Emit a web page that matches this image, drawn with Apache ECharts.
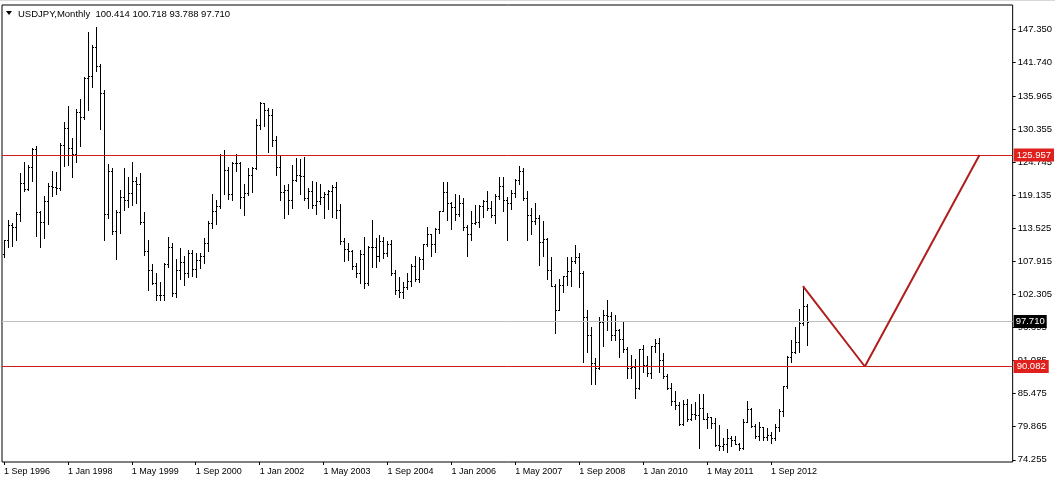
<!DOCTYPE html>
<html>
<head>
<meta charset="utf-8">
<script src="https://cdn.jsdelivr.net/npm/echarts@6/dist/echarts.min.js"></script>
<style>
html,body{margin:0;padding:0;background:#fff;}
#chart{width:1055px;height:479px;}
</style>
</head>
<body>
<div id="chart"></div>
<script>
// Monthly USDJPY bars, Sep 1996 .. Jun 2013 (index 0 = Sep 1996)
const opens = [
109.1,111.5,114.0,113.8,
115.9,121.2,120.2,123.9,126.9,116.3,114.6,118.1,120.7,120.6,120.4,127.7,
130.5,127.1,126.2,133.3,132.4,139.1,139.4,144.3,141.1,136.5,116.0,123.2,
113.0,116.3,118.8,118.4,119.5,121.5,121.0,114.6,109.7,106.4,104.2,102.2,
102.2,107.4,110.3,102.6,106.4,107.8,105.9,109.4,106.7,108.1,108.8,111.1,
114.4,116.4,117.3,126.0,123.4,119.4,124.6,124.6,118.8,119.5,122.5,123.7,
131.0,134.7,133.6,132.7,128.5,124.0,119.6,120.0,118.4,121.8,122.5,122.4,
118.7,119.9,117.5,118.1,118.8,119.4,119.8,120.5,116.7,111.4,110.0,109.6,
107.2,105.9,109.1,104.2,110.4,110.4,108.8,111.3,109.3,110.9,105.9,103.0,
102.7,103.6,104.6,107.2,105.0,108.4,110.8,112.5,110.8,113.4,116.4,119.7,
117.9,117.1,115.9,117.8,113.7,112.5,114.5,114.6,117.3,118.1,116.9,115.8,
119.0,120.7,118.4,117.8,119.5,121.7,123.2,118.6,115.8,114.8,115.3,111.2,
111.7,106.4,103.8,99.7,103.9,105.5,106.2,108.0,108.7,106.0,98.5,95.4,
90.7,89.9,97.7,98.9,98.6,95.4,96.3,94.7,93.0,89.8,90.0,86.4,
93.0,90.3,88.9,93.5,94.0,91.2,88.4,86.5,84.2,83.5,80.4,83.7,
81.1,82.0,81.8,83.1,81.2,81.5,80.5,76.7,76.6,77.0,78.0,77.6,
76.9,76.2,80.7,82.9,80.0,78.3,79.8,78.1,78.4,77.9,79.8,82.6,
86.7,91.7,92.6,94.2,97.5,100.414
];
const highs = [
111.5,114.9,114.5,116.3,
122.9,124.8,124.3,127.2,127.5,116.4,119.0,121.2,123.2,123.0,128.0,131.6,
134.3,128.8,133.7,135.5,139.2,146.8,144.6,147.6,141.4,136.9,124.4,123.8,
116.6,120.0,123.8,122.3,124.8,122.2,122.9,116.3,111.5,107.4,105.9,104.5,
107.6,112.1,111.0,108.3,110.2,108.8,109.9,109.9,109.4,109.4,111.9,114.7,
119.4,118.4,126.2,126.8,124.0,124.8,126.2,124.8,121.0,123.8,124.0,132.0,
135.0,134.8,133.9,133.7,129.1,126.0,120.9,121.0,124.3,125.5,125.3,125.6,
120.3,121.6,121.4,121.0,119.6,120.0,120.9,121.4,117.6,111.9,111.0,109.8,
107.7,109.8,112.1,110.6,114.9,111.8,112.4,112.0,111.4,111.5,106.4,105.2,
104.5,106.0,107.4,108.8,108.6,110.8,113.7,112.6,113.6,116.4,121.4,121.4,
118.0,119.4,119.2,118.7,114.0,116.4,117.4,117.4,118.3,119.9,118.2,119.4,
122.2,122.2,118.9,120.1,121.9,124.1,123.7,119.8,117.0,117.9,115.8,114.7,
111.8,108.6,104.0,105.0,105.5,108.6,108.6,110.7,109.3,106.2,99.6,96.7,
91.6,98.4,99.7,101.4,99.3,98.9,96.5,97.8,93.4,92.1,91.4,93.1,
93.8,91.9,93.5,94.8,94.9,92.4,88.8,87.2,85.9,84.0,84.4,84.5,
83.7,84.0,85.5,85.5,82.2,81.6,81.4,80.2,77.9,79.5,78.3,78.3,
77.1,81.2,84.2,83.1,80.3,80.6,79.9,79.7,78.9,80.4,82.8,86.8,
91.8,94.5,96.7,99.9,103.7,100.718
];
const lows = [
108.6,110.4,110.6,111.5,
114.8,119.9,120.0,121.6,112.2,110.4,111.9,114.2,119.0,119.3,120.0,124.1,
124.3,122.3,124.8,127.4,132.0,133.6,137.5,140.2,130.4,111.6,115.2,112.5,
108.3,112.7,116.6,117.2,117.5,117.8,114.2,109.0,103.1,104.0,101.4,101.3,
101.4,107.0,102.0,101.8,105.0,103.9,105.3,105.5,105.3,106.8,107.6,109.7,
113.5,114.3,117.0,119.3,118.5,118.3,123.2,117.0,115.8,119.2,119.6,123.5,
130.3,130.9,126.4,127.4,122.6,118.3,115.3,116.0,116.9,121.5,119.4,118.3,
117.0,116.9,115.9,117.6,115.3,116.8,115.5,115.3,110.8,107.9,108.1,106.7,
105.2,104.2,103.4,103.9,107.0,106.9,107.9,108.5,108.9,105.6,102.3,101.8,
101.7,103.3,103.7,104.6,104.4,106.6,110.5,108.8,109.5,112.8,116.4,114.9,
113.4,115.0,115.6,113.3,108.9,111.5,114.2,113.8,115.4,116.6,115.4,114.4,
118.5,116.5,111.6,116.8,118.8,121.1,118.4,111.6,112.6,114.2,107.3,108.9,
104.9,103.7,95.8,99.7,102.8,103.9,103.8,107.6,103.5,90.9,92.6,87.1,
87.1,89.6,93.5,96.3,94.5,94.5,91.7,92.6,88.2,88.1,84.8,86.3,
89.1,88.5,88.1,92.5,89.2,88.1,86.3,83.6,82.9,80.2,80.2,80.9,
81.0,81.1,76.3,81.2,79.6,79.7,76.6,75.9,75.9,75.6,76.6,76.9,
75.9,76.1,80.6,79.8,78.0,77.7,77.6,77.7,77.1,77.7,79.2,81.7,
86.5,90.8,92.3,92.6,97.2,93.788
];
const closes = [
111.5,114.0,113.8,115.9,
121.2,120.2,123.9,126.9,116.3,114.6,118.1,120.7,120.6,120.4,127.7,130.5,
127.1,126.2,133.3,132.4,139.1,139.4,144.3,141.1,136.5,116.0,123.2,113.0,
116.3,118.8,118.4,119.5,121.5,121.0,114.6,109.7,106.4,104.2,102.2,102.2,
107.4,110.3,102.6,106.4,107.8,105.9,109.4,106.7,108.1,108.8,111.1,114.4,
116.4,117.3,126.0,123.4,119.4,124.6,124.6,118.8,119.5,122.5,123.7,131.0,
134.7,133.6,132.7,128.5,124.0,119.6,120.0,118.4,121.8,122.5,122.4,118.7,
119.9,117.5,118.1,118.8,119.4,119.8,120.5,116.7,111.4,110.0,109.6,107.2,
105.9,109.1,104.2,110.4,110.4,108.8,111.3,109.3,110.9,105.9,103.0,102.7,
103.6,104.6,107.2,105.0,108.4,110.8,112.5,110.8,113.4,116.4,119.7,117.9,
117.1,115.9,117.8,113.7,112.5,114.5,114.6,117.3,118.1,116.9,115.8,119.0,
120.7,118.4,117.8,119.5,121.7,123.2,118.6,115.8,114.8,115.3,111.2,111.7,
106.4,103.8,99.7,103.9,105.5,106.2,108.0,108.7,106.0,98.5,95.4,90.7,
89.9,97.7,98.9,98.6,95.4,96.3,94.7,93.0,89.8,90.0,86.4,93.0,
90.3,88.9,93.5,94.0,91.2,88.4,86.5,84.2,83.5,80.4,83.7,81.1,
82.0,81.8,83.1,81.2,81.5,80.5,76.7,76.6,77.0,78.0,77.6,76.9,
76.2,80.7,82.9,80.0,78.3,79.8,78.1,78.4,77.9,79.8,82.6,86.7,
91.7,92.6,94.2,97.5,100.4,97.710
];
// x-axis tick labels (one every 16 months from index 0)
const xTickLabels = ['1 Sep 1996','1 Jan 1998','1 May 1999','1 Sep 2000','1 Jan 2002','1 May 2003','1 Sep 2004','1 Jan 2006','1 May 2007','1 Sep 2008','1 Jan 2010','1 May 2011','1 Sep 2012'];
const xTickIndex = [0,16,32,48,64,80,96,112,128,144,160,176,192];
// y-axis tick labels
const yTickLabels = [147.350,141.740,135.965,130.355,124.745,119.135,113.525,107.915,102.305,96.695,91.085,85.475,79.865,74.255];
// horizontal levels
const levelHigh = 125.957;
const levelLow = 90.082;
const lastPrice = 97.710;
// projected zigzag (bar index, price)
const zigzagIdx = [200, 215.5, 244.2];
const zigzagPrice = [103.7, 90.082, 125.957];
const titleText = 'USDJPY,Monthly  100.414 100.718 93.788 97.710';

const FONT = 'Liberation Sans, Arial, sans-serif';
const chart = echarts.init(document.getElementById('chart'), null, {renderer:'canvas'});
const barData = opens.map((o,i)=>[i,o,highs[i],lows[i],closes[i]]);

const option = {
  animation:false,
  backgroundColor:'#ffffff',
  textStyle:{fontFamily:FONT},
  title:{text:titleText,left:18,top:9,padding:0,textStyle:{fontFamily:FONT,fontSize:9.5,fontWeight:'normal',color:'#000'}},
  graphic:[
    {type:'polygon',shape:{points:[[6,11],[12,11],[9,15]]},style:{fill:'#000'}},
    {type:'line',shape:{x1:0,y1:0.5,x2:1055,y2:0.5},style:{stroke:'#d8d8d8',lineWidth:1}}
  ],
  grid:{left:2,right:42,top:5,bottom:17,show:true,borderColor:'#000',borderWidth:1,backgroundColor:'#fff'},
  xAxis:{type:'value',min:-0.5,max:252.5,
    axisLine:{show:false,onZero:false},splitLine:{show:false},
    axisTick:{show:true,length:3,lineStyle:{color:'#000'},customValues:xTickIndex},
    axisLabel:{customValues:xTickIndex,align:'left',margin:5,fontSize:9,color:'#000',fontFamily:FONT,
      formatter:(v)=>xTickLabels[xTickIndex.indexOf(Math.round(v))]}
  },
  yAxis:{type:'value',position:'right',min:73.885,max:151.40,
    axisLine:{show:false,onZero:false},splitLine:{show:false},
    axisTick:{show:true,length:3,lineStyle:{color:'#000'},customValues:yTickLabels},
    axisLabel:{customValues:yTickLabels,margin:5,fontSize:9.5,color:'#000',fontFamily:FONT,
      formatter:(v)=>v.toFixed(3)}
  },
  series:[
    {type:'custom',name:'USDJPY',data:barData,encode:{x:0,y:[1,2,3,4]},silent:true,
     renderItem:(params,api)=>{
       const i=api.value(0);
       const o=api.coord([i,api.value(1)]);
       const h=api.coord([i,api.value(2)]);
       const l=api.coord([i,api.value(3)]);
       const c=api.coord([i,api.value(4)]);
       const x=Math.round(h[0])+0.5;
       const st={stroke:'#000',lineWidth:1};
       return {type:'group',children:[
         {type:'line',shape:{x1:x,y1:Math.round(h[1]),x2:x,y2:Math.round(l[1])+1},style:st},
         {type:'line',shape:{x1:x-1.5,y1:Math.round(o[1])+0.5,x2:x,y2:Math.round(o[1])+0.5},style:st},
         {type:'line',shape:{x1:x,y1:Math.round(c[1])+0.5,x2:x+1.5,y2:Math.round(c[1])+0.5},style:st}
       ]};
     }},
    {type:'line',name:'levels',data:[],silent:true,
     markLine:{silent:true,symbol:['none','none'],animation:false,
       data:[
        {yAxis:lastPrice,lineStyle:{color:'#c0c0c0',width:1,type:'solid'},
         label:{show:true,position:'end',distance:1,formatter:lastPrice.toFixed(3),color:'#fff',backgroundColor:'#000',padding:[2,2,1,2],fontSize:9.5,fontFamily:FONT}},
        {yAxis:levelHigh,lineStyle:{color:'#d01c1c',width:1,type:'solid'},
         label:{show:true,position:'end',distance:1,formatter:levelHigh.toFixed(3),color:'#fff',backgroundColor:'#e0201c',padding:[2,3,1,3],fontSize:9.5,fontFamily:FONT}},
        {yAxis:levelLow,lineStyle:{color:'#d01c1c',width:1,type:'solid'},
         label:{show:true,position:'end',distance:1,formatter:levelLow.toFixed(3),color:'#fff',backgroundColor:'#e0201c',padding:[2,3,1,3],fontSize:9.5,fontFamily:FONT}}
       ]}},
    {type:'line',name:'zigzag',data:zigzagIdx.map((x,k)=>[x,zigzagPrice[k]]),symbol:'none',silent:true,
     lineStyle:{color:'#b01e1e',width:2},z:5}
  ]
};
chart.setOption(option);
</script>
</body>
</html>
